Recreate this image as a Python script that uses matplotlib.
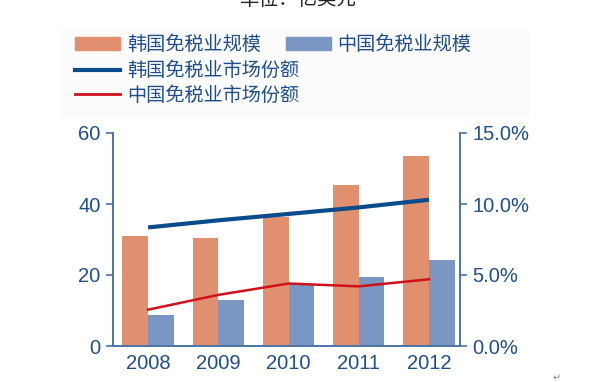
import matplotlib.pyplot as plt
from matplotlib.patches import Patch, Rectangle
from matplotlib.lines import Line2D
import numpy as np

plt.rcParams['font.family'] = ['Liberation Sans', 'Noto Sans CJK SC', 'DejaVu Sans']

years = ['2008', '2009', '2010', '2011', '2012']
korea_size = [31.0, 30.4, 36.3, 45.4, 53.5]
china_size = [8.7, 12.9, 17.6, 19.3, 24.2]
korea_share = [8.35, 8.85, 9.3, 9.76, 10.3]
china_share = [2.56, 3.6, 4.4, 4.2, 4.7]

c_kbar = '#e0906e'
c_cbar = '#7a96c2'
c_kline = '#0b4a8b'
c_cline = '#d0101a'
c_axis = '#4a74a8'
c_text = '#1f4e8c'

fig = plt.figure(figsize=(5.96, 3.82), dpi=100)
ax = fig.add_axes([113/596, 1-346/382, (460-113)/596, (346-133)/382])
ax2 = ax.twinx()

x = np.arange(len(years))
w = 0.365
ax.bar(x - w/2, korea_size, w, color=c_kbar, zorder=2)
ax.bar(x + w/2, china_size, w, color=c_cbar, zorder=2)
ax2.plot(x, korea_share, color=c_kline, lw=3, solid_capstyle='butt')
ax2.plot(x, china_share, color=c_cline, lw=1.8)

ax.set_xlim(-0.5, 4.44)
ax.set_ylim(0, 60)
ax.set_yticks([0, 20, 40, 60])
ax2.set_ylim(0, 15)
ax2.set_yticks([0, 5, 10, 15])
ax2.set_yticklabels(['0.0%', '5.0%', '10.0%', '15.0%'])
ax.set_xticks(x)
ax.set_xticklabels(years)

for a in (ax, ax2):
    a.spines['top'].set_visible(False)
    for s in ('left', 'right', 'bottom'):
        a.spines[s].set_color(c_axis)
        a.spines[s].set_linewidth(1.2)
    a.tick_params(colors=c_axis, labelcolor=c_text, labelsize=14.5, width=1.2, length=5)
ax.tick_params(axis='x', length=0, pad=6)
ax.tick_params(axis='y', pad=4)
ax2.tick_params(axis='y', pad=4)

# legend background
fig.patches.append(Rectangle((60/596, 1-118/382), 470/596, 90/382,
                             transform=fig.transFigure, facecolor='#fbfbfb',
                             edgecolor='none', zorder=0))

leg_kw = dict(frameon=False, fontsize=13.8, labelcolor=c_text, handlelength=2.35,
              handleheight=0.6, handletextpad=0.35, borderpad=0, borderaxespad=0,
              labelspacing=0.3)
fig.legend([Patch(color=c_kbar), Patch(color=c_cbar)],
           ['韩国免税业规模', '中国免税业规模'], ncol=2,
           loc='center left', bbox_to_anchor=(75/596, 1-45/382),
           columnspacing=1.3, **leg_kw)
fig.legend([Line2D([], [], color=c_kline, lw=3), Line2D([], [], color=c_cline, lw=2)],
           ['韩国免税业市场份额', '中国免税业市场份额'],
           loc='center left', bbox_to_anchor=(75/596, 1-83/382), **leg_kw)

fig.text(0.5, 1.025, '单位：亿美元', ha='center', va='top', fontsize=14, color='#222222')
fig.text(557/596, 1-378/382, '↵', ha='center', va='center', fontsize=7, color='#888888',
         family=['DejaVu Sans'])

fig.savefig('out.png', dpi=100)
